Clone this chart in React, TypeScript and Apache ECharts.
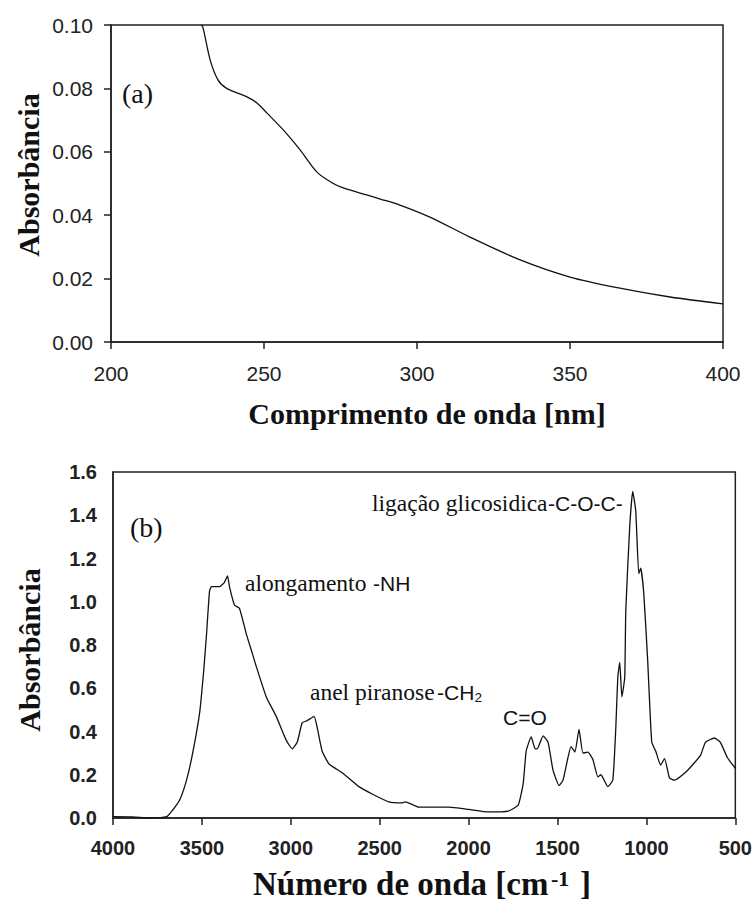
import React, { useEffect, useRef } from "react";
import * as echarts from "echarts";

// UV-Vis spectrum (a)
const uvWavelength = [229.4, 230, 232.4, 235, 237.8, 244.4, 247.7, 251, 256.3, 261.8, 267.3, 272.5, 275.9, 283.5, 288, 294.4, 304.2, 317.3, 333.7, 350, 366.3, 382.7, 400];
const uvAbsorbance = [0.1, 0.0994, 0.089, 0.0826, 0.08, 0.0773, 0.0754, 0.0722, 0.0669, 0.0606, 0.0536, 0.0501, 0.0486, 0.0464, 0.0451, 0.0432, 0.0394, 0.0331, 0.0259, 0.0205, 0.017, 0.0142, 0.012];

// FTIR spectrum (b)
const irWavenumber = [4000, 3888, 3793, 3698, 3664, 3625, 3586, 3552, 3513, 3490, 3474, 3457, 3446, 3401, 3373, 3356, 3345, 3317, 3289, 3250, 3216, 3194, 3138, 3082, 3026, 2992, 2964, 2936, 2908, 2869, 2852, 2824, 2785, 2712, 2617, 2540, 2449, 2376, 2354, 2281, 2113, 2001, 1889, 1777, 1721, 1693, 1676, 1648, 1626, 1614, 1581, 1553, 1525, 1491, 1469, 1441, 1424, 1402, 1379, 1357, 1329, 1301, 1273, 1256, 1217, 1189, 1172, 1161, 1150, 1138, 1122, 1116, 1094, 1077, 1060, 1043, 1032, 1015, 993, 970, 948, 920, 898, 870, 842, 769, 696, 668, 618, 584, 545, 500];
const irAbsorbance = [0.006, 0.005, 0.0, 0.006, 0.037, 0.083, 0.176, 0.3, 0.485, 0.68, 0.85, 1.05, 1.07, 1.07, 1.09, 1.12, 1.07, 0.985, 0.97, 0.85, 0.76, 0.7, 0.56, 0.47, 0.36, 0.32, 0.35, 0.44, 0.45, 0.47, 0.42, 0.31, 0.25, 0.21, 0.145, 0.11, 0.075, 0.07, 0.075, 0.05, 0.05, 0.04, 0.028, 0.032, 0.06, 0.16, 0.31, 0.375, 0.32, 0.32, 0.38, 0.35, 0.22, 0.15, 0.175, 0.28, 0.33, 0.305, 0.41, 0.3, 0.305, 0.27, 0.19, 0.2, 0.145, 0.175, 0.42, 0.65, 0.72, 0.56, 0.65, 0.96, 1.345, 1.51, 1.42, 1.13, 1.155, 1.04, 0.73, 0.35, 0.31, 0.245, 0.275, 0.185, 0.175, 0.22, 0.29, 0.35, 0.37, 0.35, 0.28, 0.23];

const uvTicks = { min: 200, max: 400, interval: 50 };
const uvAbsTicks = { min: 0, max: 0.1, interval: 0.02 };
const irTicks = { min: 500, max: 4000, interval: 500 };
const irAbsTicks = { min: 0, max: 1.6, interval: 0.2 };

const SERIF = "Liberation Serif";
const SANS = "Liberation Sans";
const INK = "#111";

export default function App() {
  const ref = useRef<HTMLDivElement>(null);
  useEffect(() => {
    document.body.style.margin = "0";
    if (!ref.current) return;
    const chart = echarts.init(ref.current, undefined, { renderer: "svg" });
    const axisLine = { show: true, lineStyle: { color: "#222", width: 1.5 } };
    const titleStyle = { fontFamily: SERIF, fontWeight: "bold", fontSize: 30, fill: INK };
    const serifNote = (x: number, y: number, text: string) => ({
      type: "text", x, y, style: { text, fontFamily: SERIF, fontSize: 23.5, fill: INK, align: "left", verticalAlign: "middle" },
    });
    const sansNote = (x: number, y: number, text: string) => ({
      type: "text", x, y, style: { text, fontFamily: SANS, fontSize: 21, fill: INK, align: "left", verticalAlign: "middle" },
    });
    chart.setOption({
      animation: false,
      backgroundColor: "#fff",
      grid: [
        { left: 111, top: 25, width: 612, height: 317, show: true, borderColor: "#222", borderWidth: 1.5, backgroundColor: "transparent" },
        { left: 113, top: 472, width: 625, height: 346, show: true, borderColor: "#222", borderWidth: 1.5, backgroundColor: "transparent" },
      ],
      xAxis: [
        {
          gridIndex: 0, type: "value", ...uvTicks,
          axisLine, splitLine: { show: false },
          axisTick: { show: true, length: 7, lineStyle: { color: "#222", width: 1.5 } },
          axisLabel: { margin: 21, fontFamily: SANS, fontSize: 21, color: "#222", formatter: (v: number) => String(v) },
        },
        {
          gridIndex: 1, type: "value", inverse: true, ...irTicks,
          axisLine, splitLine: { show: false },
          axisTick: { show: true, length: 7, lineStyle: { color: "#222", width: 1.5 } },
          axisLabel: { margin: 20, fontFamily: SANS, fontSize: 20, fontWeight: "bold", color: "#222", formatter: (v: number) => String(v) },
        },
      ],
      yAxis: [
        {
          gridIndex: 0, type: "value", ...uvAbsTicks,
          axisLine, splitLine: { show: false },
          axisTick: { show: true, length: 7, lineStyle: { color: "#222", width: 1.5 } },
          axisLabel: { margin: 18, fontFamily: SANS, fontSize: 21, color: "#222", formatter: (v: number) => v.toFixed(2) },
        },
        {
          gridIndex: 1, type: "value", ...irAbsTicks,
          axisLine, splitLine: { show: false },
          axisTick: { show: false },
          axisLabel: { margin: 16, fontFamily: SANS, fontSize: 20, fontWeight: "bold", color: "#222", formatter: (v: number) => v.toFixed(1) },
        },
      ],
      series: [
        {
          type: "line", xAxisIndex: 0, yAxisIndex: 0, showSymbol: false, smooth: 0.3,
          lineStyle: { color: INK, width: 1.3 },
          data: uvWavelength.map((w, i) => [w, uvAbsorbance[i]]),
        },
        {
          type: "line", xAxisIndex: 1, yAxisIndex: 1, showSymbol: false, smooth: 0.15,
          lineStyle: { color: INK, width: 1.3 },
          data: irWavenumber.map((w, i) => [w, irAbsorbance[i]]),
        },
      ],
      graphic: [
        { type: "text", x: 28, y: 175, rotation: Math.PI / 2, style: { ...titleStyle, text: "Absorbância", align: "center", verticalAlign: "middle" } },
        { type: "text", x: 29, y: 650, rotation: Math.PI / 2, style: { ...titleStyle, text: "Absorbância", align: "center", verticalAlign: "middle" } },
        { type: "text", x: 427, y: 413, style: { ...titleStyle, text: "Comprimento de onda [nm]", align: "center", verticalAlign: "middle" } },
        { type: "text", x: 253, y: 884, style: { ...titleStyle, fontSize: 33, text: "Número de onda [cm", align: "left", verticalAlign: "middle" } },
        { type: "text", x: 551, y: 878, style: { ...titleStyle, fontSize: 22, text: "-1", align: "left", verticalAlign: "middle" } },
        { type: "text", x: 580, y: 884, style: { ...titleStyle, fontSize: 33, text: "]", align: "left", verticalAlign: "middle" } },
        { type: "text", x: 122, y: 93, style: { text: "(a)", fontFamily: SERIF, fontSize: 28, fill: INK, align: "left", verticalAlign: "middle" } },
        { type: "text", x: 130, y: 527, style: { text: "(b)", fontFamily: SERIF, fontSize: 28, fill: INK, align: "left", verticalAlign: "middle" } },
        serifNote(245, 583, "alongamento"),
        sansNote(373, 583, "-NH"),
        serifNote(310, 692, "anel piranose"),
        sansNote(437, 692, "-CH₂"),
        sansNote(503, 717, "C=O"),
        serifNote(372, 503, "ligação glicosidica"),
        sansNote(548, 503, "-C-O-C-"),
      ],
    });
    return () => chart.dispose();
  }, []);
  return <div ref={ref} style={{ width: 755, height: 901 }} />;
}
